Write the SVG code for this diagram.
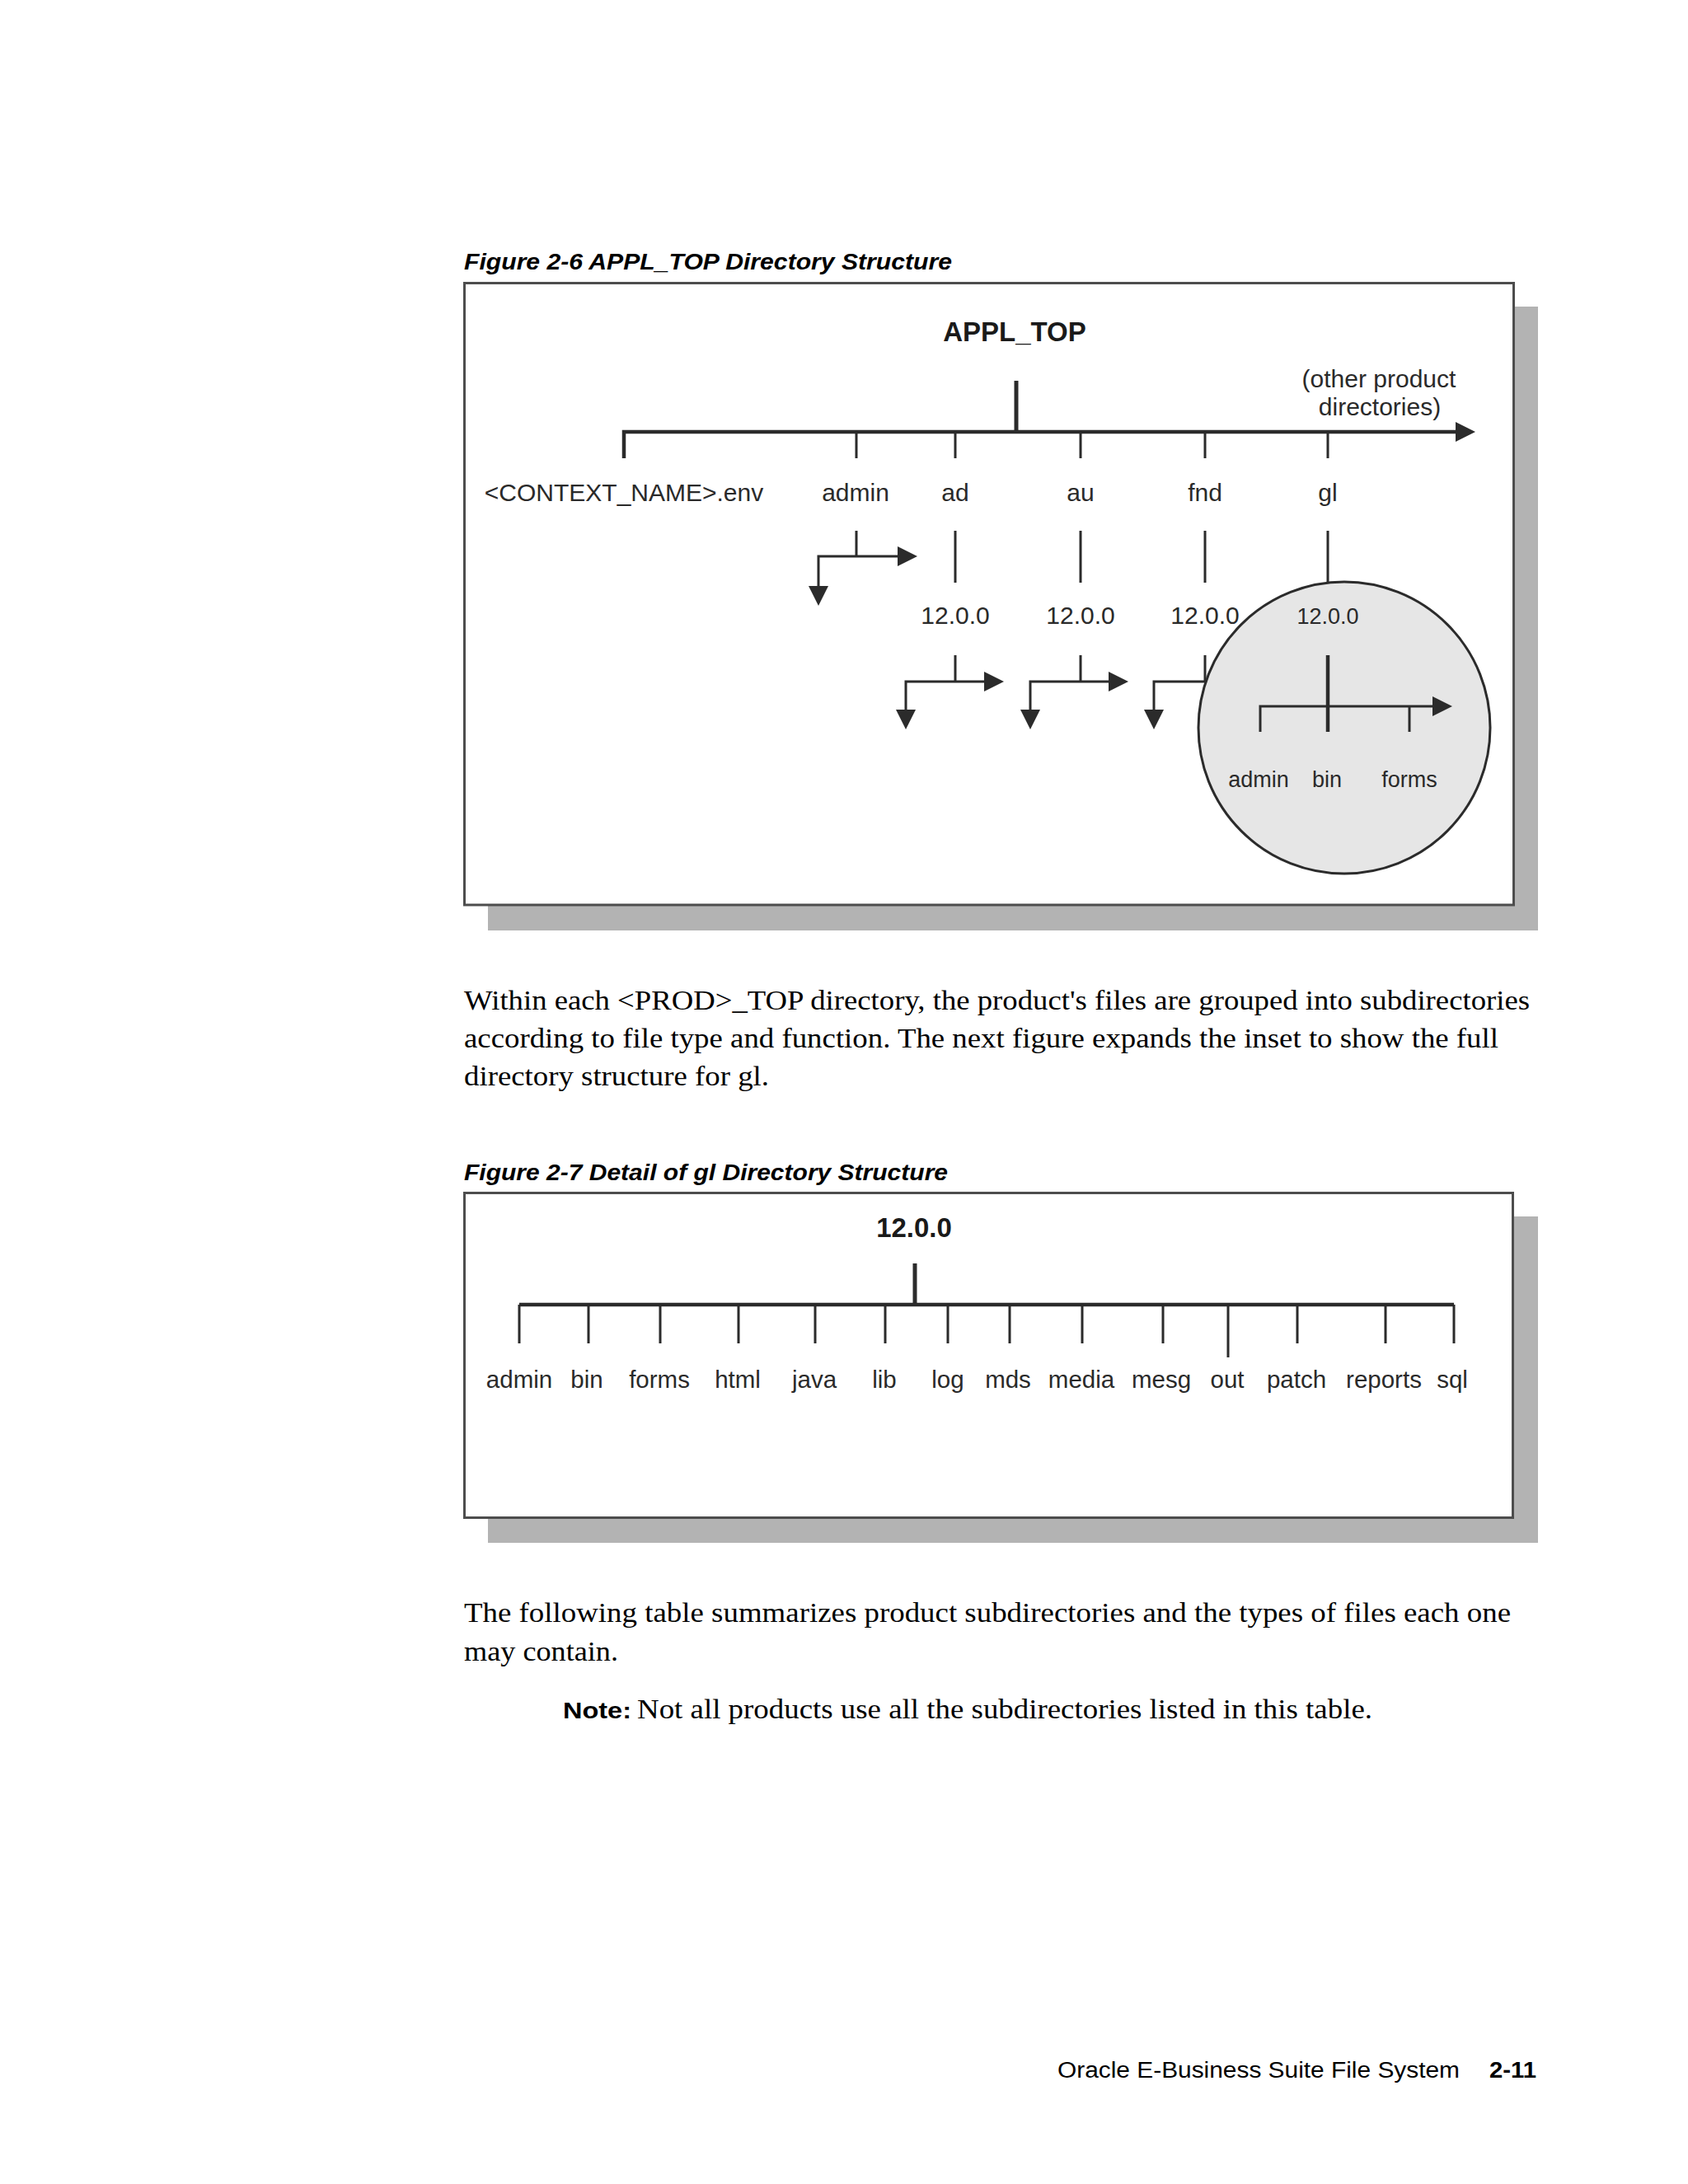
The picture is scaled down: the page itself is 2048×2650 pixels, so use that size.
<svg xmlns="http://www.w3.org/2000/svg" width="2048" height="2650" viewBox="0 0 2048 2650">
<style>
.cap{font-family:"Liberation Sans",Arial,sans-serif;font-weight:bold;font-style:italic;font-size:28px;fill:#000}
.lbl{font-family:"Liberation Sans",Arial,sans-serif;font-size:30px;fill:#2a2a2a;text-anchor:middle}
.sm{font-size:27px}
.lbl2{font-family:"Liberation Sans",Arial,sans-serif;font-size:29.5px;fill:#2a2a2a;text-anchor:middle}
.ttl{font-family:"Liberation Sans",Arial,sans-serif;font-weight:bold;font-size:33px;fill:#1a1a1a;text-anchor:middle}
.body{font-family:"Liberation Serif","Times New Roman",serif;font-size:33px;fill:#000}
.sans{font-family:"Liberation Sans",Arial,sans-serif;fill:#000}
.frame{fill:#fff;stroke:#4d4d4d;stroke-width:3}
.shadow{fill:#b3b3b3}
.ln{fill:none;stroke:#2b2b2b;stroke-width:3;stroke-linejoin:miter}
.thick{stroke-width:4.5}
.trunk{stroke-width:5}
.arr2{marker-start:url(#ah);marker-end:url(#ah)}
.arr1{marker-end:url(#ah)}
</style>
<defs>
<marker id="ah" viewBox="0 0 24 24" refX="5" refY="12" markerWidth="24" markerHeight="24" markerUnits="userSpaceOnUse" orient="auto-start-reverse">
<path d="M0,0 L24,12 L0,24 z" fill="#2b2b2b"/>
</marker>
</defs>
<rect width="2048" height="2650" fill="#fff"/>

<!-- Figure 2-6 -->
<text class="cap" x="563" y="327" textLength="592" lengthAdjust="spacingAndGlyphs">Figure 2-6 APPL_TOP Directory Structure</text>
<rect class="shadow" x="592" y="372" width="1274" height="757"/>
<rect class="frame" x="563.5" y="343.5" width="1273" height="754.5"/>

<g id="connectors-fig1">
<path class="ln trunk" d="M1233,462 V524"/>
<path class="ln thick arr1" d="M757,556 V524 H1771"/>
<path class="ln" d="M1039,524 V556 M1159,524 V556 M1311,524 V556 M1462,524 V556 M1611,524 V556"/>
<path class="ln" d="M1039,644 V675 M1159,644 V707 M1311,644 V707 M1462,644 V707 M1611,644 V707"/>
<path class="ln arr2" d="M1094,675 H993 V716"/>
<path class="ln" d="M1159,795 V827 M1311,795 V827 M1462,795 V827"/>
<path class="ln arr2" d="M1199,827 H1099 V866"/>
<path class="ln arr2" d="M1350,827 H1250 V866"/>
<path class="ln arr1" d="M1510,827 H1400 V866"/>
</g>

<g id="inset-circle">
<circle cx="1631" cy="883" r="177" fill="#e6e6e6" stroke="#2b2b2b" stroke-width="3"/>
<path class="ln thick" d="M1611,795 V888"/>
<path class="ln arr1" d="M1529,888 V857 H1743"/>
<path class="ln" d="M1710,857 V888"/>
</g>

<g id="node-appl-top"><text class="ttl" x="1231" y="414">APPL_TOP</text></g>
<g id="node-other"><text class="lbl" x="1673" y="470">(other product</text><text class="lbl" x="1674" y="504">directories)</text></g>
<g id="node-context"><text class="lbl" x="757" y="608">&lt;CONTEXT_NAME&gt;.env</text></g>
<g id="node-admin"><text class="lbl" x="1038" y="608">admin</text></g>
<g id="node-ad"><text class="lbl" x="1159" y="608">ad</text></g>
<g id="node-au"><text class="lbl" x="1311" y="608">au</text></g>
<g id="node-fnd"><text class="lbl" x="1462" y="608">fnd</text></g>
<g id="node-gl"><text class="lbl" x="1611" y="608">gl</text></g>
<g id="node-ad-ver"><text class="lbl" x="1159" y="757">12.0.0</text></g>
<g id="node-au-ver"><text class="lbl" x="1311" y="757">12.0.0</text></g>
<g id="node-fnd-ver"><text class="lbl" x="1462" y="757">12.0.0</text></g>
<g id="node-gl-ver"><text class="lbl sm" x="1611" y="757">12.0.0</text></g>
<g id="node-gl-admin"><text class="lbl sm" x="1527" y="955">admin</text></g>
<g id="node-gl-bin"><text class="lbl sm" x="1610" y="955">bin</text></g>
<g id="node-gl-forms"><text class="lbl sm" x="1710" y="955">forms</text></g>

<!-- Paragraph 1 -->
<text class="body" x="563" y="1225" textLength="1293" lengthAdjust="spacingAndGlyphs">Within each &lt;PROD&gt;_TOP directory, the product's files are grouped into subdirectories</text>
<text class="body" x="563" y="1271" textLength="1255" lengthAdjust="spacingAndGlyphs">according to file type and function. The next figure expands the inset to show the full</text>
<text class="body" x="563" y="1317" textLength="370" lengthAdjust="spacingAndGlyphs">directory structure for gl.</text>

<!-- Figure 2-7 -->
<text class="cap" x="563" y="1432" textLength="587" lengthAdjust="spacingAndGlyphs">Figure 2-7 Detail of gl Directory Structure</text>
<rect class="shadow" x="592" y="1476" width="1274" height="396"/>
<rect class="frame" x="563.5" y="1447.5" width="1272" height="394"/>

<g id="connectors-fig2">
<path class="ln trunk" d="M1110,1533 V1583"/>
<path class="ln thick" d="M630,1583 H1764"/>
<path class="ln" d="M630,1583 V1630 M714,1583 V1630 M801,1583 V1630 M896,1583 V1630 M989,1583 V1630 M1074,1583 V1630 M1150,1583 V1630 M1225,1583 V1630 M1313,1583 V1630 M1411,1583 V1630 M1490,1583 V1647 M1574,1583 V1630 M1681,1583 V1630 M1764,1583 V1630"/>
</g>

<g id="node-fig2-root"><text class="ttl" x="1109" y="1501">12.0.0</text></g>
<g id="node-d-admin"><text class="lbl2" x="630" y="1684">admin</text></g>
<g id="node-d-bin"><text class="lbl2" x="712" y="1684">bin</text></g>
<g id="node-d-forms"><text class="lbl2" x="800" y="1684">forms</text></g>
<g id="node-d-html"><text class="lbl2" x="895" y="1684">html</text></g>
<g id="node-d-java"><text class="lbl2" x="988" y="1684">java</text></g>
<g id="node-d-lib"><text class="lbl2" x="1073" y="1684">lib</text></g>
<g id="node-d-log"><text class="lbl2" x="1150" y="1684">log</text></g>
<g id="node-d-mds"><text class="lbl2" x="1223" y="1684">mds</text></g>
<g id="node-d-media"><text class="lbl2" x="1312" y="1684">media</text></g>
<g id="node-d-mesg"><text class="lbl2" x="1409" y="1684">mesg</text></g>
<g id="node-d-out"><text class="lbl2" x="1489" y="1684">out</text></g>
<g id="node-d-patch"><text class="lbl2" x="1573" y="1684">patch</text></g>
<g id="node-d-reports"><text class="lbl2" x="1679" y="1684">reports</text></g>
<g id="node-d-sql"><text class="lbl2" x="1762" y="1684">sql</text></g>

<!-- Paragraph 2 -->
<text class="body" x="563" y="1968" textLength="1270" lengthAdjust="spacingAndGlyphs">The following table summarizes product subdirectories and the types of files each one</text>
<text class="body" x="563" y="2015" textLength="187" lengthAdjust="spacingAndGlyphs">may contain.</text>
<text class="sans" x="683" y="2085" font-size="27" font-weight="bold" textLength="83" lengthAdjust="spacingAndGlyphs">Note:</text>
<text class="body" x="773" y="2085" textLength="892" lengthAdjust="spacingAndGlyphs">Not all products use all the subdirectories listed in this table.</text>

<!-- Footer -->
<text class="sans" x="1283" y="2521" font-size="27" textLength="488" lengthAdjust="spacingAndGlyphs">Oracle E-Business Suite File System</text>
<text class="sans" x="1807" y="2521" font-size="28" font-weight="bold" textLength="57" lengthAdjust="spacingAndGlyphs">2-11</text>
</svg>
